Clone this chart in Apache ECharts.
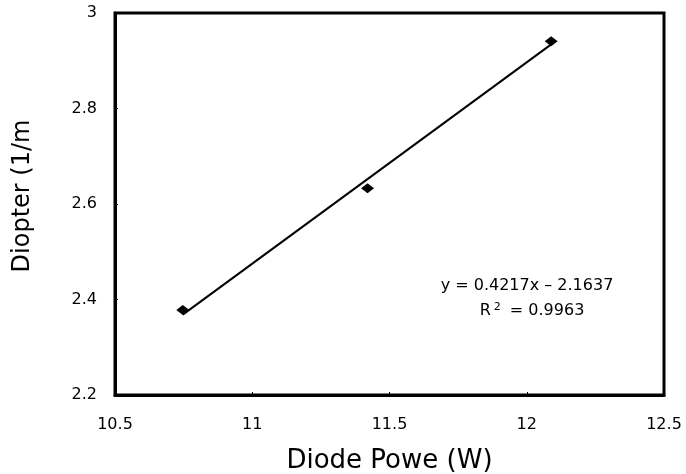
<!DOCTYPE html>
<html>
<head>
<meta charset="utf-8">
<script src="https://cdn.jsdelivr.net/npm/echarts@6/dist/echarts.min.js"></script>
<style>html,body{margin:0;padding:0;background:#fff}#c{width:686px;height:474px}</style>
</head>
<body>
<div id="c"></div>
<script>
const powerW = [10.747, 11.42, 12.089];
const diopter = [2.378, 2.633, 2.941];
const slope = 0.4217;
const intercept = -2.1637;
const xTicks = [10.5, 11, 11.5, 12, 12.5];
const yTicks = [2.2, 2.4, 2.6, 2.8, 3];
const eqText = 'y = 0.4217x \u2013 2.1637';
const r2Text = 'R{sup|2} = 0.9963';

const points = powerW.map((x, i) => [x, diopter[i]]);
const xMinD = Math.min(...powerW), xMaxD = Math.max(...powerW);
const trend = [[xMinD, slope * xMinD + intercept], [xMaxD, slope * xMaxD + intercept]];
const FONT = '"DejaVu Sans", "Liberation Sans", Arial, sans-serif';

const chart = echarts.init(document.getElementById('c'));
chart.setOption({
  animation: false,
  backgroundColor: '#fff',
  grid: { left: 115, right: 22, top: 13, bottom: 79, show: true, borderColor: '#000', borderWidth: 3,
    containLabel: false, outerBoundsMode: 'none' },
  xAxis: {
    type: 'value', min: 10.5, max: 12.5, interval: 0.5,
    name: 'Diode Powe (W)', nameLocation: 'middle', nameGap: 53,
    nameTextStyle: { fontFamily: FONT, fontSize: 26, color: '#000' },
    axisLine: { show: true, lineStyle: { color: '#000', width: 3 } },
    axisTick: { show: true, inside: true, length: 3, lineStyle: { color: '#000', width: 1 } },
    axisLabel: { fontFamily: FONT, fontSize: 16, color: '#000', margin: 22, formatter: v => String(xTicks.find(t => Math.abs(t - v) < 1e-9) ?? v) },
    splitLine: { show: false }
  },
  yAxis: {
    type: 'value', min: 2.2, max: 3, interval: 0.2,
    name: 'Diopter (1/m', nameLocation: 'middle', nameGap: 80, nameRotate: 90,
    nameTextStyle: { fontFamily: FONT, fontSize: 24, color: '#000', padding: [0, 0, 0, 16] },
    axisLine: { show: true, lineStyle: { color: '#000', width: 3 } },
    axisTick: { show: true, inside: true, length: 3, lineStyle: { color: '#000', width: 1 } },
    axisLabel: { fontFamily: FONT, fontSize: 16, color: '#000', margin: 18, formatter: v => { const t = yTicks.find(t => Math.abs(t - v) < 1e-9); return t === undefined ? '' : String(t); } },
    splitLine: { show: false }
  },
  series: [
    {
      type: 'line', data: trend, showSymbol: false, symbol: 'none',
      lineStyle: { color: '#000', width: 2 }, silent: true, z: 2
    },
    {
      type: 'scatter', data: points, symbol: 'diamond', symbolSize: [13, 10],
      itemStyle: { color: '#000', opacity: 1 }, z: 3
    }
  ],
  graphic: [
    {
      type: 'text', x: 527, y: 286,
      style: { text: eqText, fontFamily: FONT, fontSize: 16, fill: '#000', align: 'center', verticalAlign: 'middle' }
    },
    {
      type: 'text', x: 532, y: 311,
      style: { text: r2Text, fontFamily: FONT, fontSize: 16, fill: '#000', align: 'center', verticalAlign: 'middle',
        rich: { sup: { fontSize: 11, verticalAlign: 'top', padding: [0, 4, 8, 3], fontFamily: FONT, fill: '#000' } } }
    }
  ]
});
</script>
</body>
</html>
